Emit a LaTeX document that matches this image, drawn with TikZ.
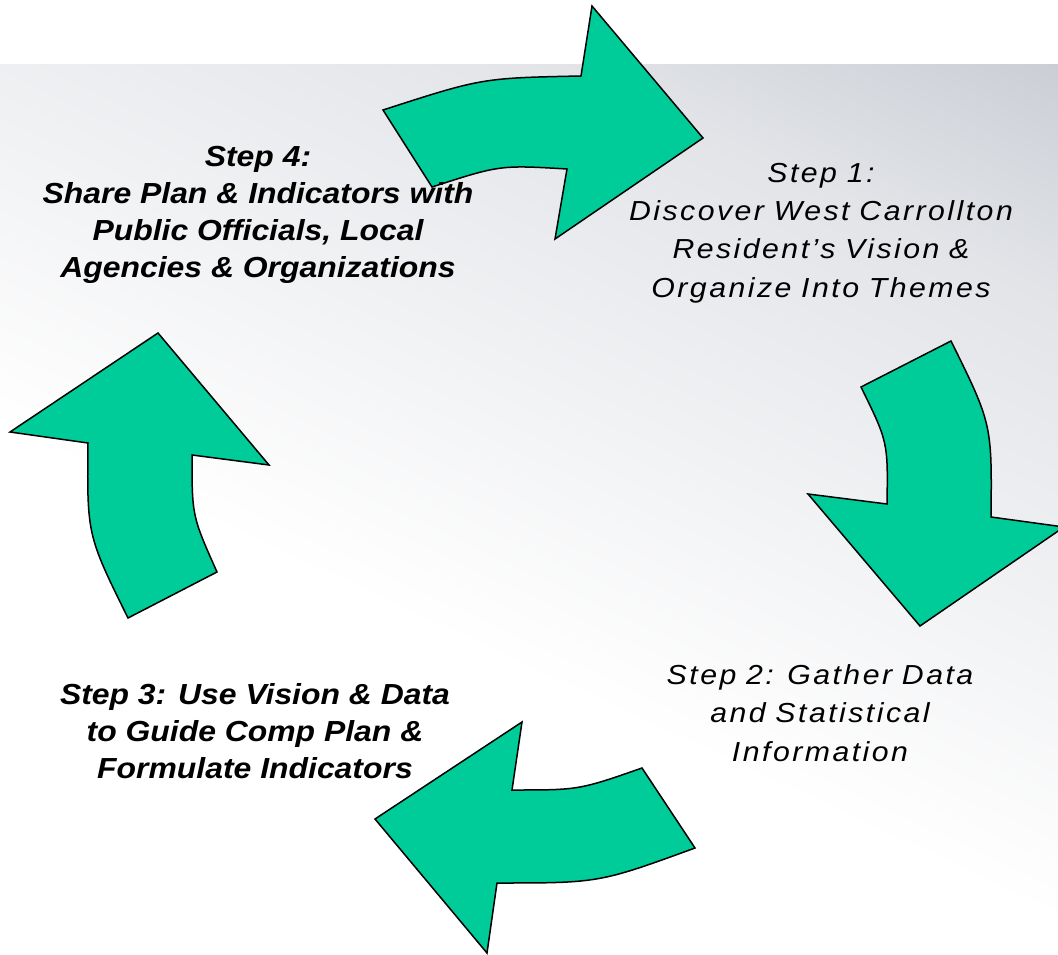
\documentclass[tikz,border=0pt]{standalone}
\usepackage{fontspec}
\setmainfont{Liberation Sans}[FakeStretch=1.1]
\newfontfamily\widefont{Liberation Sans}[FakeStretch=1.1,LetterSpace=9,WordSpace=0.9]
\definecolor{arrowgreen}{HTML}{00CC99}
\definecolor{fadegray}{HTML}{A8AEB8}
\definecolor{fadelight}{HTML}{E2E4E8}
\pgfdeclareverticalshading{backfade}{100bp}{color(0bp)=(white); color(42bp)=(white); color(72bp)=(fadelight); color(100bp)=(fadegray)}

\begin{document}
\begin{tikzpicture}[x=1pt,y=-1pt,
  bigarrow/.style={fill=arrowgreen,draw=black,line width=1.5pt,line join=miter},
  lefttext/.style={align=center,font=\fontsize{29}{37}\selectfont\bfseries\itshape},
  righttext/.style={align=center,font=\widefont\fontsize{27.5}{38.3}\selectfont\itshape}]
  \useasboundingbox (0,0) rectangle (1058,955);
  \fill[white] (0,0) rectangle (1058,955);
  \shade[shading=backfade,shading angle=-25] (0,65) rectangle (1058,955);
  \draw[bigarrow] (383,110) .. controls (482,78) .. (581,76) -- (592,6) -- (703,138)
    -- (555,239) -- (567,169) .. controls (500,165) .. (432,187) -- cycle;
  \draw[bigarrow] (861,387) -- (951,341) .. controls (992,424) .. (991,517) -- (1064,527)
    -- (920,626) -- (808,494) -- (887,504) .. controls (888,442) .. (861,387) -- cycle;
  \draw[bigarrow] (642,768) -- (695,848) .. controls (599,883) .. (497,883) -- (487,953)
    -- (375,819) -- (522,722) -- (512,790) .. controls (579,790) .. (642,768) -- cycle;
  \draw[bigarrow] (128,618) -- (217,572) .. controls (192,516) .. (192,455) -- (269,465)
    -- (158,333) -- (10,432) -- (88,443) .. controls (87,535) .. (128,618) -- cycle;
  \node[righttext] (step1) at (821,233) {Step 1:\\Discover West Carrollton\\Resident’s Vision \&\\Organize Into Themes};
  \node[righttext] (step2) at (820,713) {Step 2: Gather Data\\and Statistical\\Information};
  \node[lefttext] (step3) at (255,731) {Step 3: Use Vision \& Data\\to Guide Comp Plan \&\\Formulate Indicators};
  \node[lefttext] (step4) at (258,215) {Step 4:\\Share Plan \& Indicators with\\Public Officials, Local\\Agencies \& Organizations};
\end{tikzpicture}
\end{document}
